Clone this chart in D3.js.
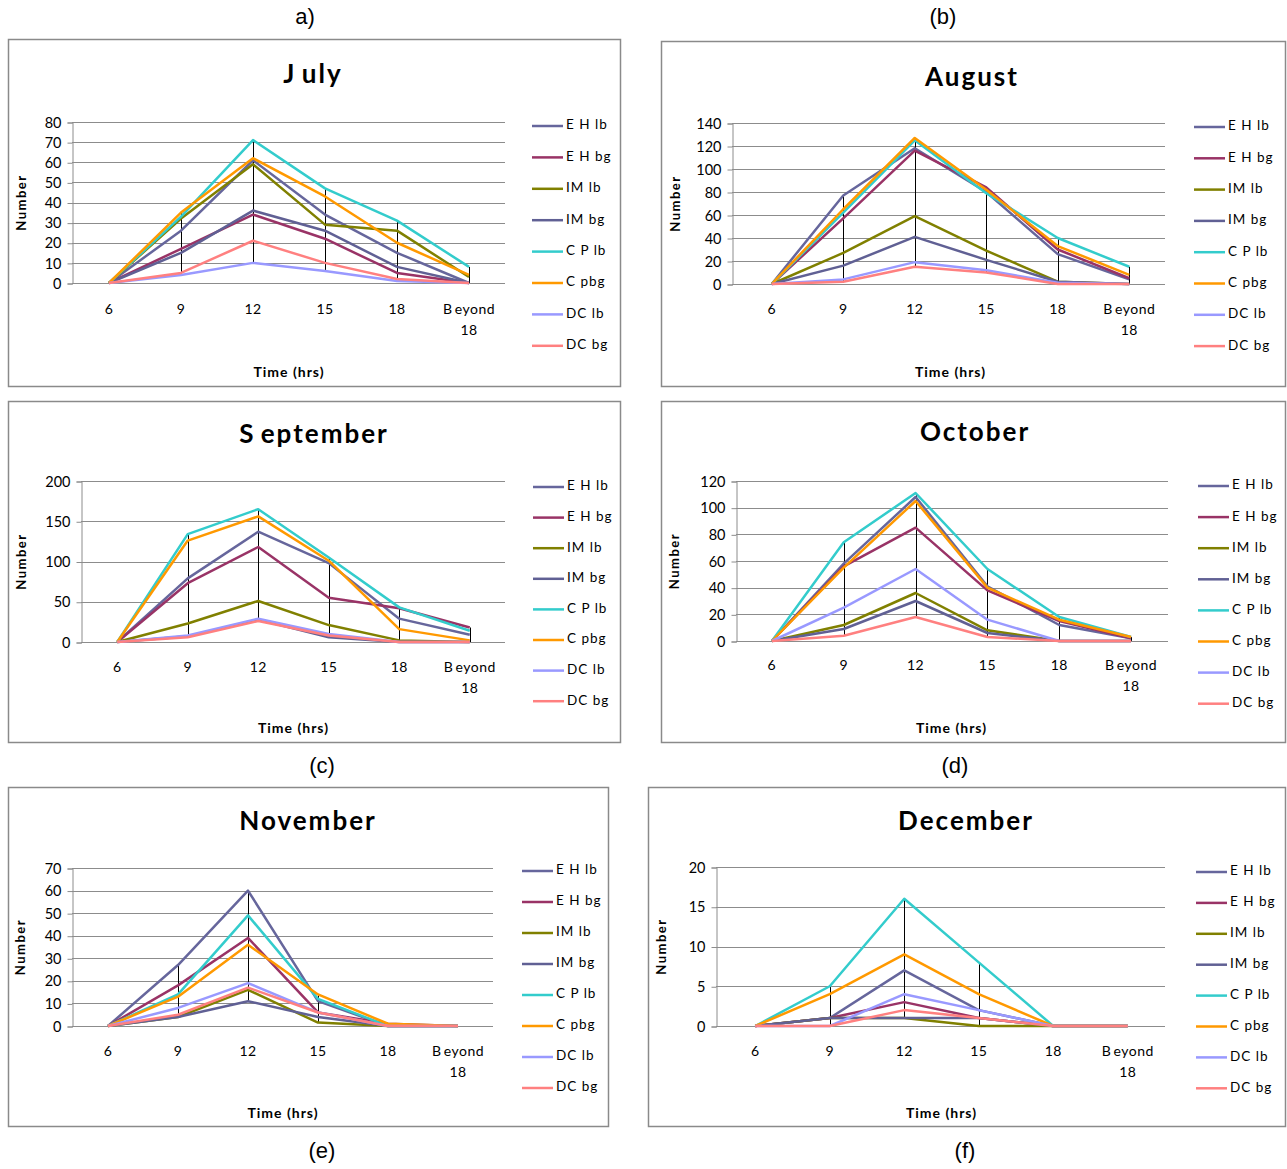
<!DOCTYPE html>
<html>
<head>
<meta charset="utf-8">
<script src="https://cdn.jsdelivr.net/npm/d3@7"></script>
<style>
  body { margin: 0; background: #fff; }
  svg text { font-family: Lato, "Open Sans", sans-serif; fill: #000; }
  .plabel { font-family: "Liberation Sans Narrow", "Liberation Sans", Arial, sans-serif; font-size: 22px; }
</style>
</head>
<body>
<div id="chart"></div>
<script>
// categories (x axis) and series names
const categories = ["6", "9", "12", "15", "18", "Beyond 18"];
const seriesNames = ["E H lb", "E H bg", "IM lb", "IM bg", "C P lb", "C pbg", "DC lb", "DC bg"];
const seriesColors = ["#66669c", "#993366", "#808000", "#606094", "#33cccc", "#ff9900", "#9999ff", "#ff8080"];

// values per month, one row per series in the order above
const julyValues = [
  [0, 26, 61, 34, 15, 0],
  [0, 17, 34, 22, 5, 0],
  [0, 32, 59, 29, 26, 3],
  [0, 15, 36, 26, 8, 0],
  [0, 33, 71, 47, 31, 8],
  [0, 35, 62, 43, 20, 4],
  [0, 4, 10, 6, 1, 0],
  [0, 5, 21, 10, 2, 0]
];
const augustValues = [
  [0, 77, 118, 80, 26, 4],
  [0, 57, 116, 84, 30, 5],
  [0, 27, 59, 29, 2, 0],
  [0, 16, 41, 21, 2, 0],
  [0, 62, 125, 79, 40, 15],
  [0, 65, 127, 82, 33, 8],
  [0, 4, 19, 12, 1, 0],
  [0, 2, 15, 10, 0, 0]
];
const septemberValues = [
  [0, 79, 137, 98, 29, 9],
  [0, 73, 118, 55, 42, 18],
  [0, 23, 51, 21, 2, 0],
  [0, 7, 28, 6, 0, 0],
  [0, 134, 165, 105, 43, 14],
  [0, 126, 156, 101, 16, 2],
  [0, 8, 29, 10, 0, 0],
  [0, 6, 26, 8, 0, 0]
];
const octoberValues = [
  [0, 58, 108, 41, 12, 2],
  [0, 56, 85, 38, 15, 2],
  [0, 12, 36, 8, 0, 0],
  [0, 9, 30, 6, 0, 0],
  [0, 74, 111, 54, 18, 3],
  [0, 55, 105, 40, 16, 3],
  [0, 25, 54, 16, 0, 0],
  [0, 4, 18, 3, 0, 0]
];
const novemberValues = [
  [0, 27, 60, 11, 0, 0],
  [0, 18, 39, 6, 1, 0],
  [0, 4, 16, 1.5, 0, 0],
  [0, 4, 11, 4, 0, 0],
  [0, 14, 49, 12, 0, 0],
  [0, 13, 36, 14, 1, 0],
  [0, 8, 19, 6, 0, 0],
  [0, 5, 17, 6, 0, 0]
];
const decemberValues = [
  [0, 1, 7, 2, 0, 0],
  [0, 1, 3, 1, 0, 0],
  [0, 1, 1, 0, 0, 0],
  [0, 1, 1, 1, 0, 0],
  [0, 5, 16, 8, 0, 0],
  [0, 4, 9, 4, 0, 0],
  [0, 0, 4, 2, 0, 0],
  [0, 0, 2, 1, 0, 0]
];

// y tick labels per month
const julyTicks = [0, 10, 20, 30, 40, 50, 60, 70, 80];
const augustTicks = [0, 20, 40, 60, 80, 100, 120, 140];
const septemberTicks = [0, 50, 100, 150, 200];
const octoberTicks = [0, 20, 40, 60, 80, 100, 120];
const novemberTicks = [0, 10, 20, 30, 40, 50, 60, 70];
const decemberTicks = [0, 5, 10, 15, 20];

// plot: [axis x, grid right, top, bottom], band: [start, end]
const panels = [
  { title: "J\u2009uly", tag: "a)", values: julyValues, ticks: julyTicks,
    box: [8, 39, 621, 387], plot: [72, 505, 122, 283], band: [73, 505], legend: [532, 126, 31.4],
    titleXY: [313, 76], yTitleX: 23, xTitleY: 373, catY: 310, tagXY: [305, 18] },
  { title: "August", tag: "(b)", values: augustValues, ticks: augustTicks,
    box: [661, 41, 1286, 387], plot: [732, 1165, 123, 284], band: [736, 1165], legend: [1194, 127, 31.3],
    titleXY: [972, 79], yTitleX: 677, xTitleY: 373, catY: 310, tagXY: [943, 18] },
  { title: "S\u2009eptember", tag: "(c)", values: septemberValues, ticks: septemberTicks,
    box: [8, 401, 621, 743], plot: [81, 505, 481, 642], band: [82, 505], legend: [533, 487, 30.6],
    titleXY: [314, 436], yTitleX: 23, xTitleY: 729, catY: 668, tagXY: [322, 767] },
  { title: "October", tag: "(d)", values: octoberValues, ticks: octoberTicks,
    box: [661, 401, 1286, 743], plot: [736, 1168, 481, 641], band: [736, 1167], legend: [1198, 486, 31.1],
    titleXY: [975, 434], yTitleX: 676, xTitleY: 729, catY: 666, tagXY: [955, 767] },
  { title: "November", tag: "(e)", values: novemberValues, ticks: novemberTicks,
    box: [8, 787, 609, 1127], plot: [72, 493, 868, 1026], band: [73, 493], legend: [522, 871, 31],
    titleXY: [308, 823], yTitleX: 22, xTitleY: 1114, catY: 1052, tagXY: [322, 1152] },
  { title: "December", tag: "(f)", values: decemberValues, ticks: decemberTicks,
    box: [648, 787, 1286, 1127], plot: [716, 1165, 867, 1026], band: [718, 1165], legend: [1196, 872, 30.9],
    titleXY: [966, 823], yTitleX: 663, xTitleY: 1114, catY: 1052, tagXY: [965, 1152] }
];

const svg = d3.select("#chart").append("svg")
  .attr("width", 1287)
  .attr("height", 1169);

panels.forEach(p => drawPanel(p));

function drawPanel(p) {
  const g = svg.append("g");
  const [bx0, by0, bx1, by1] = p.box;
  const [x0, x1, yTop, yBot] = p.plot;

  // panel tag above/below the box
  g.append("text").attr("class", "plabel")
    .attr("x", p.tagXY[0]).attr("y", p.tagXY[1])
    .attr("text-anchor", "middle").attr("dominant-baseline", "middle")
    .text(p.tag);

  // chart frame
  g.append("rect")
    .attr("x", bx0 + 0.5).attr("y", by0 + 0.5)
    .attr("width", bx1 - bx0 - 1).attr("height", by1 - by0 - 1)
    .attr("fill", "#fff").attr("stroke", "#8a8a8a").attr("stroke-width", 1.5);

  g.append("text")
    .attr("x", p.titleXY[0]).attr("y", p.titleXY[1])
    .attr("text-anchor", "middle").attr("dominant-baseline", "middle")
    .style("font-size", "26px").style("font-weight", "bold").style("letter-spacing", "2px")
    .style("white-space", "pre")
    .text(p.title);

  const x = d3.scaleBand().domain(categories).range(p.band);
  const y = d3.scaleLinear().domain([0, d3.max(p.ticks)]).range([yBot, yTop]);

  // gridlines
  g.append("g")
    .selectAll("line")
    .data(p.ticks.filter(t => t > 0))
    .join("line")
    .attr("x1", x0).attr("x2", x1)
    .attr("y1", d => Math.round(y(d)) + 0.5).attr("y2", d => Math.round(y(d)) + 0.5)
    .attr("stroke", "#8c8c8c").attr("stroke-width", 1);

  // y axis
  const yAxis = g.append("g")
    .attr("transform", `translate(${x0 + 0.5},0.5)`)
    .call(d3.axisLeft(y).tickValues(p.ticks).tickSize(5).tickPadding(6).tickFormat(d3.format("d")));
  yAxis.select(".domain").attr("stroke", "#8c8c8c");
  yAxis.selectAll(".tick line").attr("stroke", "#8c8c8c");
  yAxis.selectAll(".tick text")
    .style("font-family", "Lato, 'Open Sans', sans-serif").style("font-size", "14.5px").attr("fill", "#000");

  // x axis line
  g.append("line")
    .attr("x1", x0).attr("x2", x1)
    .attr("y1", Math.round(yBot) + 0.5).attr("y2", Math.round(yBot) + 0.5)
    .attr("stroke", "#8c8c8c");

  // category labels
  categories.forEach(c => {
    const cx = x(c) + x.bandwidth() / 2;
    const parts = c.startsWith("Beyond") ? ["B\u2009eyond", "18"] : [c];
    parts.forEach((t, i) => {
      g.append("text")
        .attr("x", cx).attr("y", p.catY + i * 21)
        .attr("text-anchor", "middle").attr("dominant-baseline", "middle")
        .style("font-size", "14px").style("white-space", "pre").style("letter-spacing", "0.5px")
        .text(t);
    });
  });

  // axis titles
  g.append("text")
    .attr("transform", `translate(${p.yTitleX},${(yTop + yBot) / 2}) rotate(-90)`)
    .attr("text-anchor", "middle").attr("dominant-baseline", "middle")
    .style("font-size", "13px").style("font-weight", "bold").style("letter-spacing", "1.5px")
    .text("Number");
  g.append("text")
    .attr("x", (p.band[0] + p.band[1]) / 2).attr("y", p.xTitleY)
    .attr("text-anchor", "middle").attr("dominant-baseline", "middle")
    .style("font-size", "14px").style("font-weight", "bold").style("letter-spacing", "1px")
    .text("Time (hrs)");

  // high-low lines
  categories.forEach((c, i) => {
    const col = p.values.map(s => s[i]);
    const cx = Math.round(x(c) + x.bandwidth() / 2) + 0.5;
    g.append("line")
      .attr("x1", cx).attr("x2", cx)
      .attr("y1", y(d3.min(col))).attr("y2", y(d3.max(col)))
      .attr("stroke", "#000").attr("stroke-width", 1);
  });

  // series lines
  const line = d3.line()
    .x((d, i) => x(categories[i]) + x.bandwidth() / 2)
    .y(d => y(d));
  p.values.forEach((s, k) => {
    g.append("path")
      .datum(s)
      .attr("d", line)
      .attr("fill", "none")
      .attr("stroke", seriesColors[k])
      .attr("stroke-width", 2.5)
      .attr("stroke-linejoin", "round");
  });

  // legend
  const [lx, ly, ldy] = p.legend;
  seriesNames.forEach((n, k) => {
    const yy = ly + k * ldy;
    g.append("line")
      .attr("x1", lx).attr("x2", lx + 31)
      .attr("y1", yy).attr("y2", yy)
      .attr("stroke", seriesColors[k]).attr("stroke-width", 2.5);
    g.append("text")
      .attr("x", lx + 34).attr("y", yy)
      .attr("dominant-baseline", "middle")
      .style("font-size", "13.5px").style("white-space", "pre").style("letter-spacing", "1px")
      .text(n);
  });
}
</script>
</body>
</html>
